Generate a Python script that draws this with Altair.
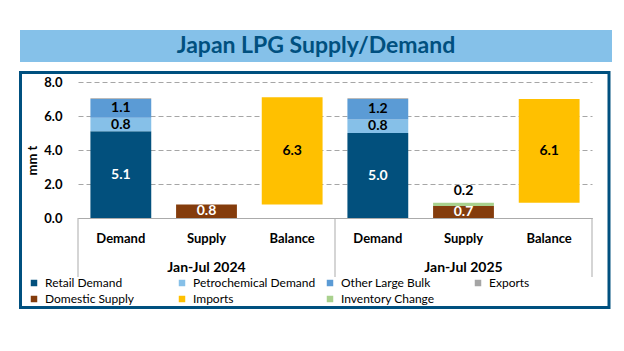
import altair as alt
import pandas as pd

# ---- data ----
periods = ["Jan-Jul 2024", "Jan-Jul 2025"]
categories = ["Demand", "Supply", "Balance"]
series_names = ["Retail Demand", "Petrochemical Demand", "Other Large Bulk", "Exports",
                "Domestic Supply", "Imports", "Inventory Change"]
series_colors = ["#02507D", "#86C0E8", "#5B9BD5", "#A5A5A5",
                 "#843C0C", "#FFC000", "#A9D18E"]
retail_demand = [5.1, 5.0]
petrochemical_demand = [0.8, 0.8]
other_large_bulk = [1.1, 1.2]
exports = [0.05, 0.05]
domestic_supply = [0.8, 0.7]
inventory_change = [0.0, 0.2]
imports = [6.3, 6.1]
y_ticks = [0, 2, 4, 6, 8]
title_text = "Japan LPG Supply/Demand"

W, H = 514, 136
FONT = "Lato"
DARK = "#00507F"
GREY = "#ABABAB"

keys = [f"{p}|{c}" for p in periods for c in categories]

rows = []
for i, p in enumerate(periods):
    base = 0.0
    for name, vals, lab, tc in [("Retail Demand", retail_demand, True, "white"),
                                ("Petrochemical Demand", petrochemical_demand, True, "black"),
                                ("Other Large Bulk", other_large_bulk, True, "black"),
                                ("Exports", exports, False, "black")]:
        v = vals[i]
        rows.append(dict(key=f"{p}|Demand", series=name, start=base, end=base + v,
                         value=v, label=lab, pos="mid", tc=tc))
        base += v
    base = 0.0
    for name, vals, lab, pos, tc in [("Domestic Supply", domestic_supply, True, "mid", "white"),
                                     ("Inventory Change", inventory_change, True, "above", "black")]:
        v = vals[i]
        if v > 0:
            rows.append(dict(key=f"{p}|Supply", series=name, start=base, end=base + v,
                             value=v, label=lab, pos=pos, tc=tc))
        base += v
    v = imports[i]
    rows.append(dict(key=f"{p}|Balance", series="Imports", start=base, end=base + v,
                     value=v, label=True, pos="mid", tc="black"))

df = pd.DataFrame(rows)
df["mid"] = (df["start"] + df["end"]) / 2
df["txt"] = df["value"].map(lambda v: f"{v:.1f}")

xscale = alt.Scale(domain=keys, paddingInner=0.29, paddingOuter=0.145)
xaxis = alt.Axis(title=None, labelExpr="split(datum.label, '|')[1]",
                 labelAngle=0, labelFont=FONT, labelFontWeight="bold",
                 labelFontSize=13, labelColor="black", labelPadding=14,
                 ticks=False, domain=True, domainColor=GREY, domainWidth=1)

yscale = alt.Scale(domain=[0, 8], nice=False)
yaxis = alt.Axis(values=y_ticks, format=".1f", grid=True,
                 gridDash=[5, 3], gridColor="#A6A6A6", domain=False, ticks=False,
                 labelOverlap=False,
                 labelFont=FONT, labelFontWeight="bold", labelFontSize=13,
                 labelColor="black", labelPadding=16,
                 title="mm t", titleFont=FONT, titleFontSize=13,
                 titleFontWeight="bold", titleColor="black",
                 titleX=-39, titleY=78)


def X():
    return alt.X("key:N", sort=keys, scale=xscale, axis=xaxis)


def Y(field):
    return alt.Y(field, scale=yscale, axis=yaxis)


bars = alt.Chart(df).mark_bar().encode(
    x=X(),
    y=Y("start:Q"),
    y2="end:Q",
    color=alt.Color("series:N",
                    scale=alt.Scale(domain=series_names, range=series_colors),
                    legend=alt.Legend(orient="none", legendX=-50, legendY=195,
                                      direction="horizontal", columns=4, gridAlign="all",
                                      symbolType="square", symbolSize=42,
                                      symbolStrokeWidth=0, labelFont=FONT,
                                      labelFontSize=12, labelColor="black",
                                      columnPadding=8, rowPadding=4, labelOffset=5,
                                      title=None)),
)

mid_labels = alt.Chart(df).transform_filter(
    "datum.label && datum.pos == 'mid'"
).mark_text(font=FONT, fontWeight="bold", fontSize=14, baseline="middle").encode(
    x=X(),
    y=Y("mid:Q"),
    text="txt:N",
    color=alt.Color("tc:N", scale=None),
)

above_labels = alt.Chart(df).transform_filter(
    "datum.label && datum.pos == 'above'"
).mark_text(font=FONT, fontWeight="bold", fontSize=14, baseline="middle", dy=-12).encode(
    x=X(),
    y=Y("end:Q"),
    text="txt:N",
    color=alt.Color("tc:N", scale=None),
)

gdf = pd.DataFrame({"key": [f"{p}|Supply" for p in periods], "period": periods})
group_labels = alt.Chart(gdf).mark_text(
    font=FONT, fontWeight="bold", fontSize=14, baseline="middle", color="black"
).encode(x=X(), y=alt.value(186), text="period:N")

sep = pd.DataFrame({"px": [0, W / 2, W]})
separators = alt.Chart(sep).mark_rule(color=GREY, strokeWidth=1).encode(
    x=alt.X("px:Q", scale=None), y=alt.value(H), y2=alt.value(195)
)

one = pd.DataFrame({"t": [title_text]})
banner = alt.Chart(one).mark_rect(color="#85C1E9").encode(
    x=alt.value(-58), x2=alt.value(534), y=alt.value(-52), y2=alt.value(-20)
)
title = alt.Chart(one).mark_text(
    font=FONT, fontWeight="bold", fontSize=23, color=DARK, align="center", baseline="middle"
).encode(x=alt.value(238), y=alt.value(-36), text="t:N")
frame = alt.Chart(one).mark_rect(fillOpacity=0, stroke=DARK, strokeWidth=3).encode(
    x=alt.value(-57.5), x2=alt.value(531), y=alt.value(-9.5), y2=alt.value(225.5)
)

chart = alt.layer(
    banner, title, frame, separators, bars, mid_labels, above_labels, group_labels
).properties(
    width=W, height=H,
    autosize=alt.AutoSizeParams(type="none"),
    padding={"left": 78, "top": 82, "right": 32, "bottom": 133},
    background="white",
).configure_view(stroke=None)

chart.save("out.html", embed_options={"renderer": "svg", "actions": False})
